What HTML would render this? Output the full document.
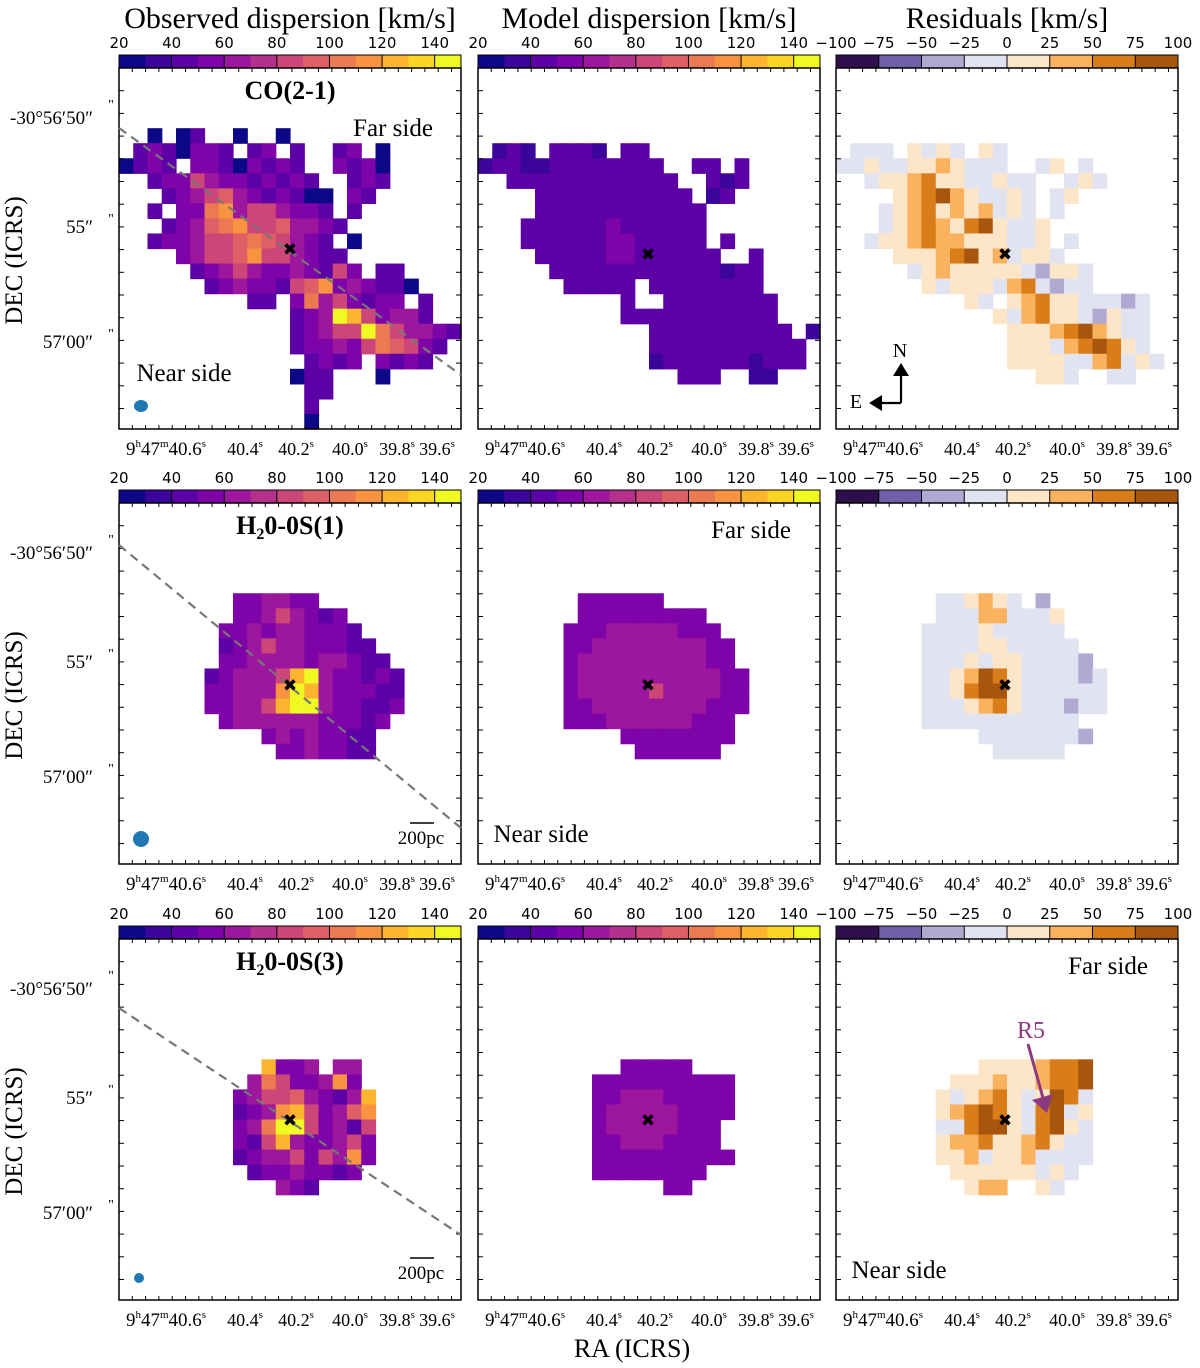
<!DOCTYPE html>
<html><head><meta charset="utf-8">
<style>
html,body{margin:0;padding:0;background:#fff;}
svg{display:block;font-family:"Liberation Serif","DejaVu Serif",serif;}
</style></head>
<body>
<svg id="fig" width="1200" height="1368" viewBox="0 0 1200 1368" xmlns="http://www.w3.org/2000/svg">
<g id="layer"></g>
</svg>
<script>
// ---- data ----
const plasmaTicks = ["20","40","60","80","100","120","140"];
const residTicks = ["\u2212100","\u221275","\u221250","\u221225","0","25","50","75","100"];
const raTicks = ["40.4","40.2","40.0","39.8","39.6"];
const decTicks = ["-30\u00b056\u203250\u2033","55\u2033","57\u203200\u2033"];
const plasmaBins = ["#0d0887","#3b049a","#5c01a6","#7e03a8","#9c179e","#b52f8c","#cc4778","#de5f65","#ed7953","#f89441","#fdb42f","#fbd524","#f0f921"];
const residBins = ["#2d0f4b","#6f5fa8","#b0a9d1","#e2e3f0","#fde6c8","#fbb25f","#d97c1a","#a8560e"];
const colTitles = ["Observed dispersion [km/s]","Model dispersion [km/s]","Residuals [km/s]"];
const lineNames = ["CO(2-1)","H\u2082O-0S(1)","H\u2082O-0S(3)"];

const obs1 = [
"","","","",
"..a.ac..a..a............",
".cdcaddc.cd.c..cd.a.....",
"acdc.ddcadcdc..dcda.....",
"..cddfeddcdcdc..cdc.....",
"...cdefgedcdcaa.dc......",
"..c.ddhieffeddc.c.......",
"...cdeghiffgeedc........",
"..cddeffghgfedc.a.......",
"....deffgiffedcc........",
".....cdefeddedcfd.cc....",
"......cdeddcfgidedcca...",
".........cc.dhefdcdd.c..",
"............cdekjfdeec..",
"............cdeffkhfeedc",
"............cddedfhgfdc.",
".............cdcd.dcdc..",
"............acc...a.....",
".............cc.........",
".............c..........",
".............a.........."];
const mod1 = [
"","","","","",
".bcb.cccb.cc............",
"bccbbcccccccc..cc.c.....",
"..cccccccccccc..cbc.....",
"....ccccccccccc.bc......",
"....cccccccccccc........",
"...ccccccdcccccc........",
"...ccccccddccccc.c......",
"....cccccddcccccc..c....",
".....ccccccccccccbcc....",
"......ccccc.cccccccc....",
"..........c..cccccccc...",
"..........ccccccccccc...",
"............cccccccccc.b",
"............ccccccccccc.",
"............bccccccbccc.",
"..............ccc..bb..."];
const res1 = [
"","","","","",
".sss.tsts.ts............",
"sstssttutsss..st.s......",
"..sttuvttsstss..sts.....",
"....tuvwutssts.st.......",
"...stuvtutusts.s........",
"...stuvutvwtsst.........",
"..sttuvuutttsst.s.......",
"....tttuvwtustts........",
".....stutttttsrtts......",
"......tstttsuvsrss......",
".........ts.tuvttsssrs..",
"...........tsuvttsrtss..",
"............tttuvwutss..",
"............tttsuvwvts..",
"............ttttssuvsts.",
"..............tts..ss..."];
const obs2 = [
"","","","","","",
"........ddeedd..........",
"........ddefedcd........",
".......ddedeedddc.......",
".......cdefeedddcc......",
".......ddeeeedeedcc.....",
"......cdeeefjkeddcdc....",
"......ddeeeikjedddcc....",
"......ddeefjkkeddccd....",
".......deeeeeedddcd.....",
"..........dededdcc......",
"...........ddeddcc......"];
const mod2 = [
"","","","","","",
".......dddddd...........",
".......ddddddddd........",
"......dddeeeeeddd.......",
"......ddeeeeeeeedd......",
"......deeeeeeeeedd......",
"......deeeeeeeeeedd.....",
"......deeeeefeeeedd.....",
"......ddeeeeeeeeddd.....",
"......dddeeeeeeddd......",
"..........dddddddd......",
"...........dddddd......."];
const res2 = [
"","","","","","",
".......sstuts.r.........",
".......sssuussst........",
"......sssstsssss........",
"......ssssttsssss.......",
"......ssststtssssr......",
"......sstuwvtssssrs.....",
"......sstvwwtssssss.....",
"......ssstuvtsssrss.....",
"......sssssssssss.......",
"..........sssssssr......",
"...........sssss........"];
const obs3 = [
"","","","","","","","",
"..........jdde.ee.......",
".........ehfddeid.......",
"........deffgedcej......",
"........cdeijfdegi......",
"........dehkkfdecf......",
"........dcfjeddefd......",
"........cdeefdfeid......",
".........cddeddcd.......",
"...........edc.........."];
const mod3 = [
"","","","","","","","",
"..........ddddd.........",
"........dddddddddd......",
"........ddeeeddddd......",
"........deeeeedddd......",
"........deeeeeddd.......",
"........ddeeedddd.......",
"........dddddddddd......",
"........dddddddd........",
".............dd........."];
const res3 = [
"","","","","","","","",
"..........ttttuvvw......",
"........tttuttuvvw......",
".......tstuvtstwvs......",
".......tuvwvtsvwst......",
".......ssvwwtsvwts......",
".......tuuvttuvtss......",
".......ttusttussss......",
"........ttttttsts.......",
".........tuu..ts........"];
const grids = [[obs1,mod1,res1],[obs2,mod2,res2],[obs3,mod3,res3]];

// ---- layout ----
const NS="http://www.w3.org/2000/svg";
const layer=document.getElementById('layer');
const colX=[119,478,836], PW=342, PH=361;
const rowY=[68,503,939];
const NC=24, NR=24;
const palette={a:"#0d0887",b:"#3b049a",c:"#5c01a6",d:"#7e03a8",e:"#9c179e",f:"#cc4778",g:"#de5f65",h:"#ed7953",i:"#f89441",j:"#fdb42f",k:"#f0f921",
 p:"#2d0f4b",q:"#6f5fa8",r:"#b0a9d1",s:"#e2e3f0",t:"#fde6c8",u:"#fbb25f",v:"#d97c1a",w:"#a8560e"};
function mk(tag,attrs,parent){const e=document.createElementNS(NS,tag);for(const k in attrs)e.setAttribute(k,attrs[k]);(parent||layer).appendChild(e);return e;}
function txt(x,y,s,size,anchor,parent,extra){const t=mk('text',Object.assign({x:x,y:y,'font-size':size,'text-anchor':anchor||'middle',fill:'#000'},extra||{}),parent);t.textContent=s;return t;}

colTitles.forEach((t,i)=>{const e=txt(colX[i]+PW/2,28,t,30);

});

for(let r=0;r<3;r++){
 const py=rowY[r];
 for(let c=0;c<3;c++){
  const px=colX[c];
  const g=mk('g',{});
  
  
  const bins = c<2?plasmaBins:residBins;
  const ticks = c<2?plasmaTicks:residTicks;
  const cb=mk('g',{},g);
  
  
  const bw=PW/bins.length;
  bins.forEach((col,i)=>{mk('rect',{x:px+i*bw,y:py-13,width:bw+0.5,height:13,fill:col},cb);});
  mk('rect',{x:px,y:py-13,width:PW,height:13,fill:'none',stroke:'#000','stroke-width':1},cb);
  ticks.forEach((t,i)=>{
   const tx = c<2 ? px+i*2*bw : px+i*bw;
   mk('line',{x1:tx,x2:tx,y1:py-13,y2:py,stroke:'#000','stroke-width':1},cb);
   const e=txt(tx,py-20,t,15,'middle',cb,{'font-family':'"DejaVu Sans","Liberation Sans",sans-serif'});
   
   
  });
  const grid=grids[r][c];
  const cw=PW/NC, ch=PH/NR;
  const mapG=mk('g',{},g);
  
  
  grid.forEach((row,ri)=>{
   for(let ci=0;ci<Math.min(row.length,NC);ci++){
    const ch0=row[ci]; if(!palette[ch0])continue;
    const cell=mk('rect',{x:(px+ci*cw).toFixed(2),y:(py+ri*ch).toFixed(2),width:(cw+0.6).toFixed(2),height:(ch+0.6).toFixed(2),fill:palette[ch0]},mapG);
    
    
   }
  });
  mk('rect',{x:px,y:py,width:PW,height:PH,fill:'none',stroke:'#000','stroke-width':1.5},g);
  for(let k=1;k<26;k++){const tx=px+k*13.3;
   mk('line',{x1:tx,x2:tx,y1:py,y2:py+4,stroke:'#000'},g);
   mk('line',{x1:tx,x2:tx,y1:py+PH,y2:py+PH-4,stroke:'#000'},g);}
  for(let k=1;k<16;k++){const ty=py+k*22.7;
   mk('line',{x1:px,x2:px+5,y1:ty,y2:ty,stroke:'#000'},g);
   mk('line',{x1:px+PW,x2:px+PW-5,y1:ty,y2:ty,stroke:'#000'},g);}
  const ly=py+PH+26;
  const l0=txt(px+47,ly,'',19,'middle',g);
  l0.innerHTML='9<tspan font-size="11" dy="-8">h</tspan><tspan dy="8">47</tspan><tspan font-size="11" dy="-8">m</tspan><tspan dy="8">40.6</tspan><tspan font-size="11" dy="-8">s</tspan>';
  
  
  const rx=[126,177,231,278,318];
  raTicks.forEach((t,i)=>{const e=txt(px+rx[i],ly,'',18,'middle',g);
   e.innerHTML=t+'<tspan font-size="11" dy="-8">s</tspan>';
   
   });
  if(c===0){
   const dy=[py+49,py+158,py+273];
   decTicks.forEach((t,i)=>{const e=txt(93,dy[i]+7,t,19,'end',g);
    
    
    txt(111,dy[i]-3+(i===0?-5:0),'"',14,'middle',g);});
   const al=txt(0,0,'DEC (ICRS)',25,'middle',g,{transform:'translate(22,'+(py+PH/2+12)+') rotate(-90)'});
   
   
  }
  layer.appendChild(g);
 }
}

const dashes=[[119,128,461,375],[119,545,461,828],[119,1008,461,1235]];
dashes.forEach(d=>{const e=mk('line',{x1:d[0],y1:d[1],x2:d[2],y2:d[3],stroke:'#777','stroke-width':2.2,'stroke-dasharray':'9,6'});

});

const centres=[[290,248],[648,253],[1005,253],[290,684],[648,684],[1005,684],[290,1119],[648,1119],[1005,1119]];
centres.forEach(p=>{const e=txt(p[0],p[1]+7,'\u2716',17,'middle',null,{'font-family':'"DejaVu Sans",sans-serif'});

});

lineNames.forEach((n,i)=>{const e=txt(290,rowY[i]+31,'',26,'middle',null,{'font-weight':'bold'});
 e.innerHTML = i===0 ? n : 'H<tspan font-size="16" dy="5">2</tspan><tspan dy="-5">0-0S('+(i===1?1:3)+')</tspan>';
 
 });

const sides=[["Far side",393,136],["Near side",184,381],["Far side",751,538],["Near side",541,842],["Far side",1108,974],["Near side",899,1278]];
sides.forEach(s=>{const e=txt(s[1],s[2],s[0],25);

});

[[141,406,7,6],[141,839,8,8],[139,1278,5,5]].forEach(b=>{const e=mk('ellipse',{cx:b[0],cy:b[1],rx:b[2],ry:b[3],fill:'#1f77b4'});

});

[[823],[1258]].forEach(s=>{mk('line',{x1:410,x2:434,y1:s[0],y2:s[0],stroke:'#000','stroke-width':1.5});
const e=txt(421,s[0]+21,'200pc',19);

});

const comp=mk('g',{});


mk('path',{d:'M901,403 L901,374 M901,403 L880,403',stroke:'#000','stroke-width':2.2,fill:'none'},comp);
mk('path',{d:'M893,376 L909,376 L901,363 Z',fill:'#000'},comp);
mk('path',{d:'M882,395 L882,411 L869,403 Z',fill:'#000'},comp);
txt(900,357,'N',20,'middle',comp);
txt(856,408,'E',20,'middle',comp);

const r5=mk('g',{});


mk('line',{x1:1028,y1:1044,x2:1043,y2:1098,stroke:'#8e3a80','stroke-width':3},r5);
mk('path',{d:'M1032,1100 L1053,1094 L1047,1113 Z',fill:'#8e3a80'},r5);
txt(1031,1038,'R5',24,'middle',r5,{fill:'#8e3a80'});

const xt=txt(632,1357,'RA (ICRS)',26);


</script>
</body></html>
